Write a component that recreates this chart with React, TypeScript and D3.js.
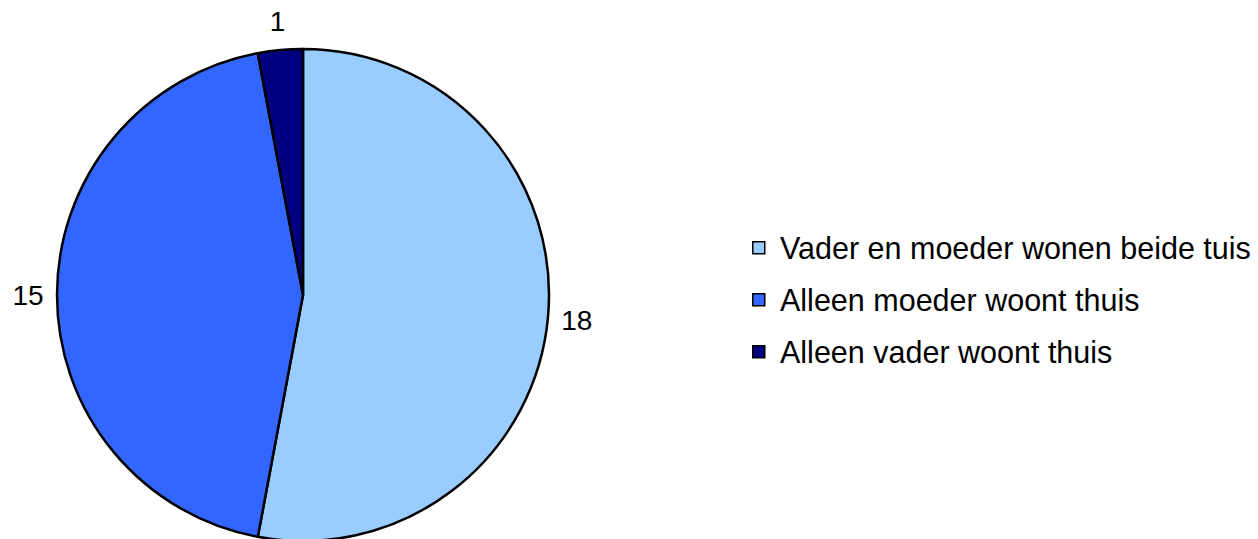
import React from "react";
import * as d3 from "d3";

const categories = [
  "Vader en moeder wonen beide tuis",
  "Alleen moeder woont thuis",
  "Alleen vader woont thuis",
];
const values = [18, 15, 1];
const colors = ["#99CCFF", "#3366FF", "#000080"];

const width = 1258;
const height = 539;
const cx = 303;
const cy = 295;
const radius = 246;
const labelRadius = 275;

export default function App() {
  const data = categories.map((c, i) => ({ name: c, value: values[i], color: colors[i] }));
  const pie = d3
    .pie<{ name: string; value: number; color: string }>()
    .sort(null)
    .value((d) => d.value);
  const arcs = pie(data);
  const arcGen = d3
    .arc<d3.PieArcDatum<{ name: string; value: number; color: string }>>()
    .innerRadius(0)
    .outerRadius(radius);

  return (
    <svg
      width={width}
      height={height}
      style={{ position: "absolute", left: 0, top: 0 }}
      fontFamily="'Liberation Sans', Arial, sans-serif"
    >
      <rect width={width} height={height} fill="#fff" />
      <g transform={`translate(${cx},${cy})`}>
        {arcs.map((a, i) => (
          <path key={i} d={arcGen(a) || ""} fill={a.data.color} stroke="#000" strokeWidth={2.5} strokeLinejoin="round" />
        ))}
        {arcs.map((a, i) => {
          const mid = (a.startAngle + a.endAngle) / 2;
          const x = labelRadius * Math.sin(mid);
          const y = -labelRadius * Math.cos(mid);
          return (
            <text key={i} x={x} y={y} textAnchor="middle" dominantBaseline="central" fontSize={28}>
              {a.data.value}
            </text>
          );
        })}
      </g>
      <g transform="translate(752,241)">
        {categories.map((c, i) => (
          <g key={i} transform={`translate(0,${i * 52})`}>
            <rect x={0.75} y={0.75} width={12} height={12} fill={colors[i]} stroke="#000" strokeWidth={1.5} />
            <text x={28} y={7} dominantBaseline="central" fontSize={30.5} fill="#000">
              {c}
            </text>
          </g>
        ))}
      </g>
    </svg>
  );
}
